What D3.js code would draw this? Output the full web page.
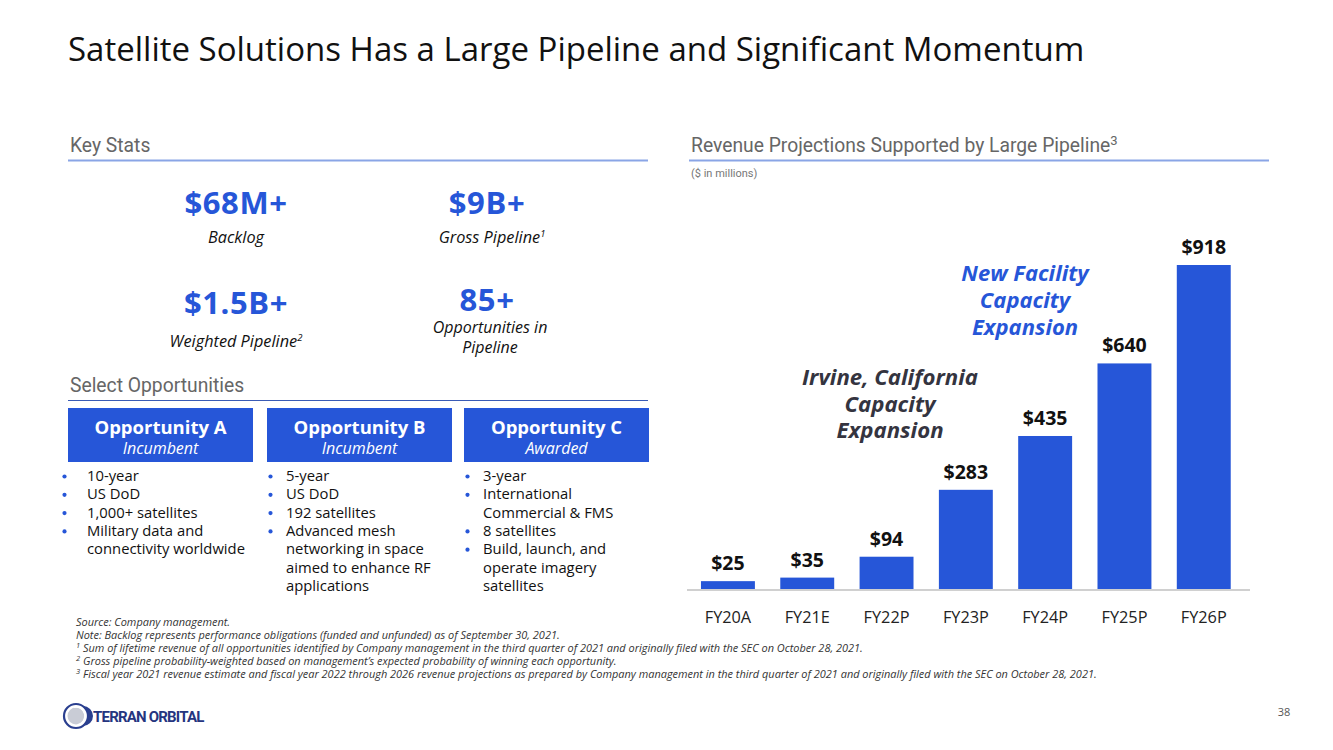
<!DOCTYPE html>
<html><head><meta charset="utf-8">
<script src="https://cdn.jsdelivr.net/npm/d3@7"></script>
<style>
html,body{margin:0;padding:0;background:#fff;}
svg{display:block;}
</style></head>
<body>
<svg id="c" width="1333" height="750"></svg>
<script>
// ---- data ----
const categories = ["FY20A","FY21E","FY22P","FY23P","FY24P","FY25P","FY26P"];
const revenue = [25,35,94,283,435,640,918];
const valueLabels = ["$25","$35","$94","$283","$435","$640","$918"];
const statValues = ["$68M+","$9B+","$1.5B+","85+"];
const statLabels = [["Backlog"],["Gross Pipeline","1"],["Weighted Pipeline","2"],["Opportunities in","Pipeline"]];
const oppTitles = ["Opportunity A","Opportunity B","Opportunity C"];
const oppStatus = ["Incumbent","Incumbent","Awarded"];
const oppBullets = [
  [["10-year"],["US DoD"],["1,000+ satellites"],["Military data and","connectivity worldwide"]],
  [["5-year"],["US DoD"],["192 satellites"],["Advanced mesh","networking in space","aimed to enhance RF","applications"]],
  [["3-year"],["International","Commercial & FMS"],["8 satellites"],["Build, launch, and","operate imagery","satellites"]]
];
const irvineNote = ["Irvine, California","Capacity","Expansion"];
const facilityNote = ["New Facility","Capacity","Expansion"];
const footnotes = [
  ["","Source: Company management."],
  ["","Note: Backlog represents performance obligations (funded and unfunded) as of September 30, 2021."],
  ["1"," Sum of lifetime revenue of all opportunities identified by Company management in the third quarter of 2021 and originally filed with the SEC on October 28, 2021."],
  ["2"," Gross pipeline probability-weighted based on management\u2019s expected probability of winning each opportunity."],
  ["3"," Fiscal year 2021 revenue estimate and fiscal year 2022 through 2026 revenue projections as prepared by Company management in the third quarter of 2021 and originally filed with the SEC on October 28, 2021."]
];

const BLUE = "#2656d8";
const SEG = "'Open Sans','Noto Sans',sans-serif";
const ROB = "Roboto,sans-serif";
const svg = d3.select("#c");

// title
svg.append("text").attr("x",68).attr("y",61).attr("font-family",SEG).attr("font-size",33)
  .attr("fill","#111").text("Satellite Solutions Has a Large Pipeline and Significant Momentum");

// section headers
function header(x,y,x2,lineY,txt,sup,lineColor,lineW){
  const t = svg.append("text").attr("x",x).attr("y",y).attr("font-family",ROB).attr("font-size",19.3)
    .attr("fill","#666").text(txt);
  if(sup) t.append("tspan").attr("font-size",13).attr("dy",-7).text(sup);
  svg.append("line").attr("x1",x-2).attr("x2",x2).attr("y1",lineY).attr("y2",lineY)
    .attr("stroke",lineColor).attr("stroke-width",lineW);
}
header(70,152,648,160.5,"Key Stats",null,"#8aa5e6",2);
header(691,152,1269,160.5,"Revenue Projections Supported by Large Pipeline","3","#8aa5e6",2);
header(70,392,648,400.5,"Select Opportunities",null,"#3a5bb5",1.2);

svg.append("text").attr("x",691).attr("y",177).attr("font-family",ROB).attr("font-size",11)
  .attr("fill","#777").text("($ in millions)");

// key stats
const statX = [236,487,236,487];
const statY = [214,214,314,311];
statValues.forEach((v,i)=>{
  svg.append("text").attr("x",statX[i]).attr("y",statY[i]).attr("text-anchor","middle")
    .attr("font-family",SEG).attr("font-weight",700).attr("font-size",31).attr("letter-spacing",0.6)
    .attr("fill",BLUE).text(v);
});
const labelY = [[243],[243],[347],[333,353]];
const labelX = [236,492,236,490];
statLabels.forEach((l,i)=>{
  if(i===3){
    l.forEach((s,j)=>svg.append("text").attr("x",labelX[i]).attr("y",labelY[i][j]).attr("text-anchor","middle")
      .attr("font-family",SEG).attr("font-style","italic").attr("font-size",16).attr("fill","#111").text(s));
  } else {
    const t = svg.append("text").attr("x",labelX[i]).attr("y",labelY[i][0]).attr("text-anchor","middle")
      .attr("font-family",SEG).attr("font-style","italic").attr("font-size",16.3).attr("fill","#111");
    t.append("tspan").text(l[0]);
    if(l[1]) t.append("tspan").attr("font-size",9.5).attr("dy",-6).text(l[1]);
  }
});

// opportunity boxes
const boxX = [68,267,464];
const boxW = 185;
oppTitles.forEach((tt,i)=>{
  svg.append("rect").attr("x",boxX[i]).attr("y",408).attr("width",boxW).attr("height",54).attr("fill",BLUE);
  svg.append("text").attr("x",boxX[i]+boxW/2).attr("y",434).attr("text-anchor","middle")
    .attr("font-family",SEG).attr("font-weight",700).attr("font-size",18.5).attr("fill","#fff").text(tt);
  svg.append("text").attr("x",boxX[i]+boxW/2).attr("y",454).attr("text-anchor","middle")
    .attr("font-family",SEG).attr("font-style","italic").attr("font-size",16).attr("fill","#fff").text(oppStatus[i]);
  let line = 0;
  const textX = boxX[i]+19, dotX = boxX[i]-3.5;
  oppBullets[i].forEach(b=>{
    const y0 = 481 + line*18.3;
    svg.append("circle").attr("cx",dotX+ (i===0?0:7)).attr("cy",y0-4.5).attr("r",2.1).attr("fill",BLUE);
    b.forEach((s,k)=>{
      svg.append("text").attr("x",textX).attr("y",y0+k*18.3).attr("font-family",SEG)
        .attr("font-size",14.8).attr("fill","#111").text(s);
    });
    line += b.length;
  });
});

// bar chart
const x = d3.scaleBand().domain(categories).range([686.7,1245]).paddingInner(0.32).paddingOuter(0.18);
const y = d3.scaleLinear().domain([0,918]).range([590,265]);
svg.append("g").selectAll("rect").data(revenue).join("rect")
  .attr("x",(d,i)=>x(categories[i])).attr("width",x.bandwidth())
  .attr("y",d=>y(d)).attr("height",d=>590-y(d)).attr("fill",BLUE);
svg.append("g").selectAll("text").data(revenue).join("text")
  .attr("x",(d,i)=>x(categories[i])+x.bandwidth()/2).attr("y",d=>y(d)-11)
  .attr("text-anchor","middle").attr("font-family",SEG).attr("font-weight",700).attr("font-size",19.5)
  .attr("fill","#111").text((d,i)=>valueLabels[i]);
const xAxis = svg.append("g").attr("transform","translate(0,590)")
  .call(d3.axisBottom(x).tickSize(0).tickPadding(21));
xAxis.select(".domain").attr("stroke","#d0d0d0").attr("stroke-width",2).attr("d","M687,0H1250");
xAxis.selectAll("text").attr("font-family",SEG).attr("font-size",16.3).attr("fill","#222");

// annotations
irvineNote.forEach((s,i)=>svg.append("text").attr("x",890).attr("y",385+i*26.5).attr("text-anchor","middle")
  .attr("font-family",SEG).attr("font-weight",700).attr("font-style","italic").attr("font-size",22.2)
  .attr("fill","#34343f").text(s));
facilityNote.forEach((s,i)=>svg.append("text").attr("x",1025).attr("y",281+i*27).attr("text-anchor","middle")
  .attr("font-family",SEG).attr("font-weight",700).attr("font-style","italic").attr("font-size",22)
  .attr("fill",BLUE).text(s));

// footnotes
footnotes.forEach((f,i)=>{
  const t = svg.append("text").attr("x",76).attr("y",626+i*13.1).attr("font-family",SEG)
    .attr("font-style","italic").attr("font-size",10.95).attr("fill","#333");
  if(f[0]) t.append("tspan").attr("font-size",7.5).attr("dy",-4).text(f[0]);
  t.append("tspan").attr("dy",f[0]?4:0).text(f[1]);
});

// logo
const lg = svg.append("g").attr("transform","translate(76,716)");
lg.append("circle").attr("r",12).attr("fill","none").attr("stroke","#2a3f8f").attr("stroke-width",2.2);
lg.append("circle").attr("r",8.5).attr("fill","#c9ccd6");
lg.append("path").attr("d","M-2,-9 A9,9 0 0,1 2,9").attr("fill","none").attr("stroke","#fff").attr("stroke-width",2);
lg.append("path").attr("d","M4,-11.3 A12,12 0 0,1 4,11.3 L7,10 A10,10 0 0,0 7,-10Z").attr("fill","#2a3f8f");
svg.append("text").attr("x",93).attr("y",722).attr("font-family","Roboto,sans-serif").attr("font-weight",700)
  .attr("font-size",15).attr("letter-spacing",-0.8).attr("fill","#25357f").text("TERRAN ORBITAL");

svg.append("text").attr("x",1284).attr("y",716).attr("text-anchor","middle").attr("font-family",SEG)
  .attr("font-size",11).attr("fill","#555").text("38");
</script>
</body></html>
